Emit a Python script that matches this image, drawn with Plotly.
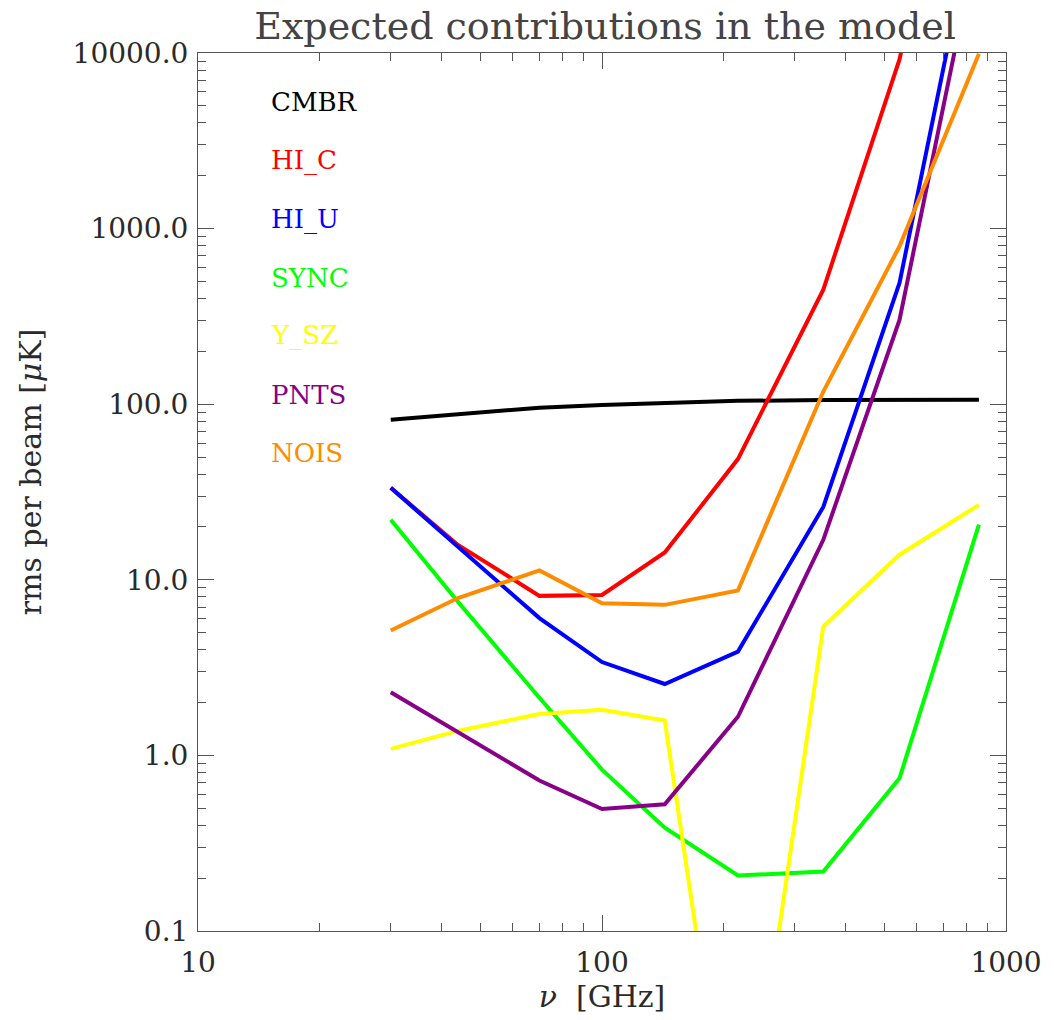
import plotly.graph_objects as go

# Observing frequencies [GHz]
freq_ghz = [30, 44, 70, 100, 143, 217, 353, 545, 857]

# rms per beam [uK] of each component at each frequency
cmbr = [81.5, 88.0, 95.5, 99.0, 102.0, 104.5, 105.5, 106.0, 106.0]
hi_c = [33.4, 15.8, 8.1, 8.2, 14.3, 48.7, 449.0, 9200.0, 1.0e6]
hi_u = [33.4, 15.5, 6.05, 3.40, 2.55, 3.9, 26.0, 490.0, 8.0e4]
sync = [22.0, 7.5, 2.13, 0.83, 0.388, 0.207, 0.218, 0.741, 20.6]
y_sz = [1.09, 1.38, 1.72, 1.82, 1.58, 0.0025, 5.42, 13.9, 26.7]
pnts = [2.29, 1.35, 0.72, 0.495, 0.527, 1.66, 16.9, 302.0, 4.8e4]
nois = [5.14, 7.87, 11.3, 7.36, 7.2, 8.7, 118.0, 793.0, 9900.0]

component_names = ["CMBR", "HI_C", "HI_U", "SYNC", "Y_SZ", "PNTS", "NOIS"]
component_values = [cmbr, hi_c, hi_u, sync, y_sz, pnts, nois]
component_colors = ["#000000", "#FF0000", "#0000FF", "#00FF00",
                    "#FFFF00", "#880088", "#FF8C00"]

x_tick_vals = [10, 100, 1000]
x_tick_text = ["10", "100", "1000"]
y_tick_vals = [0.1, 1, 10, 100, 1000, 10000]
y_tick_text = ["0.1", "1.0", "10.0", "100.0", "1000.0", "10000.0"]

x_minor = [m * d for d in (10, 100) for m in range(2, 10)]
y_minor = [m * d for d in (0.1, 1, 10, 100, 1000) for m in range(2, 10)]

FONT = "DejaVu Serif"
TXT = "#2a2a2a"
AX = "#555555"

# plot-area geometry in pixels
L, R, T, B = 198, 1012, 53, 931
W, H = 1054, 1020

fig = go.Figure()
for name, vals, col in zip(component_names, component_values, component_colors):
    fig.add_trace(go.Scatter(x=freq_ghz, y=vals, mode="lines", name=name,
                             line=dict(color=col, width=4), showlegend=False))

# Component labels stacked in the upper-left corner
for i, (name, col) in enumerate(zip(component_names, component_colors)):
    y_px = 102 + 58.5 * i
    fig.add_annotation(x=(270 - L) / (R - L), y=(B - y_px) / (B - T),
                       xref="paper", yref="paper", text=name, showarrow=False,
                       xanchor="left", yanchor="middle",
                       font=dict(family=FONT, size=26, color=col))

# Vertical axis title
fig.add_annotation(x=(29 - L) / (R - L), y=(B - 472) / (B - T),
                   xref="paper", yref="paper", text="rms per beam [<i>μ</i>K]",
                   textangle=-90, showarrow=False,
                   xanchor="center", yanchor="middle",
                   font=dict(family=FONT, size=30, color=TXT))

axis_common = dict(
    type="log", showgrid=False, zeroline=False, showline=True,
    linecolor=AX, linewidth=1, mirror="ticks", ticks="inside",
    ticklen=16, tickwidth=1, tickcolor=AX,
    tickfont=dict(family=FONT, size=28, color=TXT),
)

fig.update_xaxes(
    **axis_common, range=[1, 3], tickmode="array",
    tickvals=x_tick_vals, ticktext=x_tick_text,
    minor=dict(tickmode="array", tickvals=x_minor, ticks="inside",
               ticklen=8, tickwidth=1, tickcolor=AX, showgrid=False),
    title=dict(text="<i>ν</i>  [GHz]", standoff=6,
               font=dict(family=FONT, size=30, color=TXT)),
    ticklabelstandoff=6,
)
fig.update_yaxes(
    **axis_common, range=[-1, 4], tickmode="array",
    tickvals=y_tick_vals, ticktext=y_tick_text,
    minor=dict(tickmode="array", tickvals=y_minor, ticks="inside",
               ticklen=8, tickwidth=1, tickcolor=AX, showgrid=False),
    ticklabelstandoff=3,
)

fig.update_layout(
    width=W, height=H,
    margin=dict(l=L, r=W - R, t=T, b=H - B),
    paper_bgcolor="white", plot_bgcolor="white",
    title=dict(text="Expected contributions in the model",
               x=(L + R) / 2 / W, xanchor="center",
               y=1 - 26 / H, yanchor="middle", yref="container",
               font=dict(family=FONT, size=38, color="#444444")),
)

fig.write_html("out.html")
